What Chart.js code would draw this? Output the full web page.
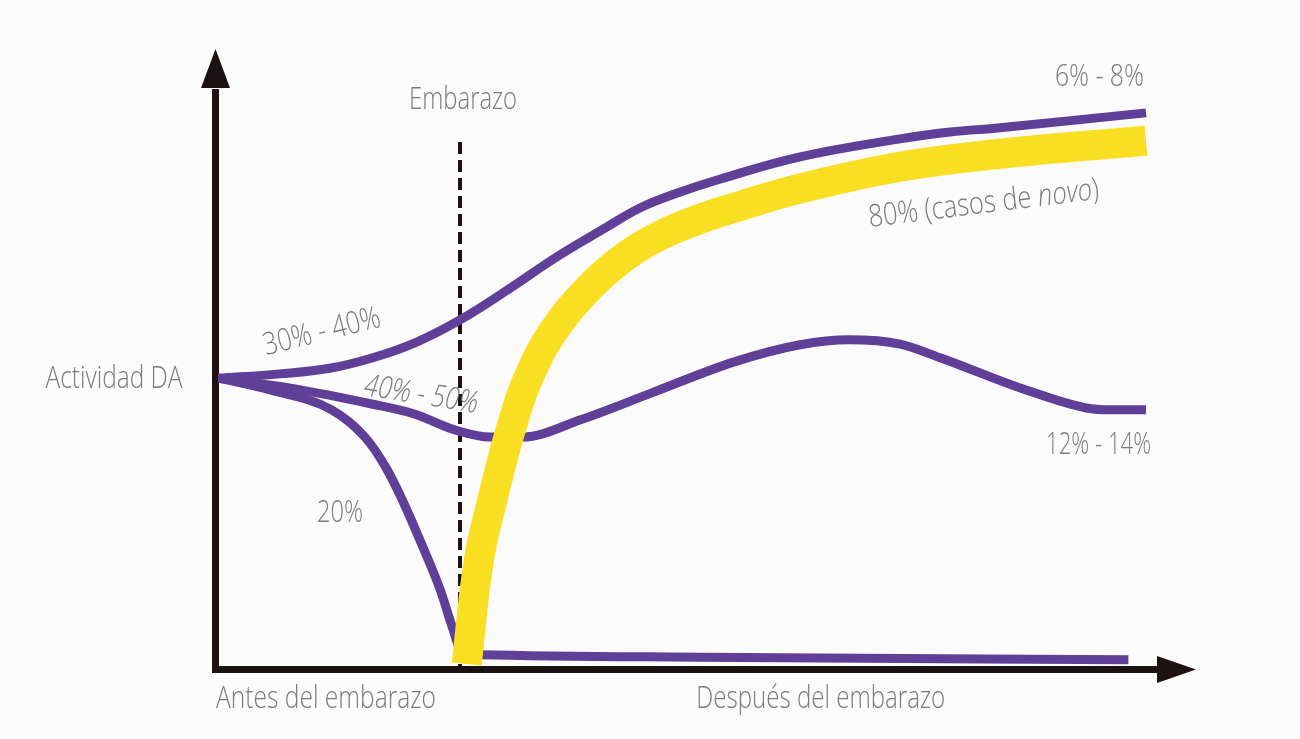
<!DOCTYPE html>
<html>
<head>
<meta charset="utf-8">
<script src="https://cdn.jsdelivr.net/npm/chart.js@4.4.1/dist/chart.umd.min.js"></script>
<style>
  html, body { margin: 0; padding: 0; background: #fbfbfb; }
  #wrap { width: 1300px; height: 739px; position: relative; }
</style>
</head>
<body>
<div id="wrap"><canvas id="chart"></canvas></div>
<script>
// Actividad DA (escala relativa 0-100) antes / después del embarazo
// curva 30% - 40% -> 6% - 8%
const riseX = [0.2, 6.5, 11.6, 16.0, 20.3, 24.9, 29.7, 34.8, 39.9, 43.3, 47.3, 51.4, 59.6, 69.8, 74.9, 80.0, 94.9];
const riseY = [46.9, 47.6, 48.5, 50.2, 52.6, 56.3, 61.1, 66.5, 71.3, 74.4, 76.9, 79.0, 82.6, 85.5, 86.6, 87.3, 89.7];

// curva 40% - 50% -> 12% - 14%
const dipX = [0.3, 7.6, 16.0, 20.3, 24.5, 28.0, 31.3, 37.2, 44.4, 52.8, 59.6, 64.6, 69.8, 73.9, 82.3, 88.8, 91.2, 94.9];
const dipY = [46.9, 45.3, 42.7, 41.1, 38.5, 37.4, 37.4, 40.2, 44.5, 49.5, 52.3, 53.1, 52.4, 50.2, 45.2, 42.1, 41.8, 41.8];

// curva 20% (cae a cero)
const dropX = [0.3, 5.5, 11.8, 15.2, 17.3, 19.0, 21.1, 22.9, 24.1, 25.1, 26.9, 49.4, 93.1];
const dropY = [46.9, 45.0, 41.8, 37.4, 32.6, 27.3, 19.7, 12.7, 6.8, 2.7, 2.3, 1.9, 1.5];

// 80% (casos de novo)
const novoX = [25.6, 26.0, 26.5, 27.1, 28.0, 29.0, 30.0, 31.7, 34.4, 38.4, 42.0, 45.3, 49.4, 53.5, 59.6, 69.8, 80.0, 94.9];
const novoY = [0.8, 7.1, 14.0, 20.0, 26.0, 32.4, 38.2, 46.3, 54.4, 62.0, 66.8, 69.9, 72.6, 74.7, 77.5, 81.0, 83.1, 85.2];

const embarazoX = 24.9;
const embarazoTop = 85.0;

const purple = '#5f3f97';
const yellow = '#f9de22';
const axisColor = '#1c1212';
const textColor = '#7b7b7b';

// textos: posición (x, y en valores de la escala), ancho en px, ángulo
const notes = [
    { parts: [['Embarazo', false]], x: 19.7, y: 90.3, w: 108, a: 0 },
    { parts: [['Actividad DA', false]], x: -17.4, y: 45.3, w: 137, a: 0 },
    { parts: [['Antes del embarazo', false]], x: 0, y: -6.3, w: 220, a: 0 },
    { parts: [['Después del embarazo', false]], x: 49.0, y: -6.3, w: 249, a: 0 },
    { parts: [['6% - 8%', false]], x: 85.6, y: 94.0, w: 89, a: 0 },
    { parts: [['12% - 14%', false]], x: 84.7, y: 34.7, w: 105, a: 0 },
    { parts: [['20%', false]], x: 10.3, y: 23.7, w: 46, a: 0 },
    { parts: [['30% - 40%', false]], x: 5.1, y: 50.6, w: 120, a: -14 },
    { parts: [['40% - 50%', true]], x: 15.0, y: 44.2, w: 115, a: 9 },
    { parts: [['80% (casos de ', false], ['novo', true], [')', false]], x: 66.7, y: 71.3, w: 232, a: -7 }
];

function toPoints(xs, ys) {
    return xs.map((x, i) => ({ x: x, y: ys[i] }));
}

function fontFor(italic) {
    return (italic ? 'italic ' : '') + '300 31px "Open Sans", "Liberation Sans", sans-serif';
}

// ejes con flechas + línea discontinua del embarazo
const axesPlugin = {
    id: 'axes',
    beforeDatasetsDraw(chart) {
        const ctx = chart.ctx;
        const area = chart.chartArea;
        const sx = chart.scales.x, sy = chart.scales.y;
        const ax = area.left - 0.5;
        const ay = area.bottom + 0.5;
        ctx.save();
        // línea discontinua
        const dx = sx.getPixelForValue(embarazoX);
        ctx.strokeStyle = axisColor;
        ctx.lineWidth = 4;
        ctx.setLineDash([12, 6]);
        ctx.beginPath();
        ctx.moveTo(dx, sy.getPixelForValue(embarazoTop));
        ctx.lineTo(dx, ay);
        ctx.stroke();
        ctx.setLineDash([]);

        ctx.lineWidth = 7;
        ctx.beginPath();
        ctx.moveTo(ax, ay + 3.5);
        ctx.lineTo(ax, area.top + 40);
        ctx.moveTo(ax - 3.5, ay);
        ctx.lineTo(area.right - 38, ay);
        ctx.stroke();
        ctx.fillStyle = axisColor;
        ctx.beginPath();
        ctx.moveTo(ax, area.top);
        ctx.lineTo(ax - 14.5, area.top + 39);
        ctx.lineTo(ax + 14.5, area.top + 39);
        ctx.closePath();
        ctx.fill();
        ctx.beginPath();
        ctx.moveTo(area.right, ay);
        ctx.lineTo(area.right - 39, ay - 13.5);
        ctx.lineTo(area.right - 39, ay + 13.5);
        ctx.closePath();
        ctx.fill();
        ctx.restore();
    },
    afterDraw(chart) {
        const ctx = chart.ctx;
        const sx = chart.scales.x, sy = chart.scales.y;
        ctx.save();
        ctx.fillStyle = textColor;
        ctx.textBaseline = 'alphabetic';
        ctx.textAlign = 'left';
        notes.forEach(n => {
            let total = 0;
            n.parts.forEach(p => { ctx.font = fontFor(p[1]); total += ctx.measureText(p[0]).width; });
            const s = n.w / total;
            ctx.save();
            ctx.translate(sx.getPixelForValue(n.x), sy.getPixelForValue(n.y));
            ctx.rotate(n.a * Math.PI / 180);
            ctx.scale(s, 1);
            let off = 0;
            n.parts.forEach(p => {
                ctx.font = fontFor(p[1]);
                ctx.fillText(p[0], off, 0);
                off += ctx.measureText(p[0]).width;
            });
            ctx.restore();
        });
        ctx.restore();
    }
};

const chart = new Chart(document.getElementById('chart').getContext('2d'), {
    type: 'line',
    data: {
        datasets: [
            {
                label: '80% (casos de novo)',
                data: toPoints(novoX, novoY),
                borderColor: yellow,
                borderWidth: 30,
                tension: 0.4
            },
            {
                label: '30% - 40%',
                data: toPoints(riseX, riseY),
                borderColor: purple,
                borderWidth: 9,
                tension: 0.4
            },
            {
                label: '40% - 50%',
                data: toPoints(dipX, dipY),
                borderColor: purple,
                borderWidth: 9,
                cubicInterpolationMode: 'monotone'
            },
            {
                label: '20%',
                data: toPoints(dropX, dropY),
                borderColor: purple,
                borderWidth: 9,
                cubicInterpolationMode: 'monotone'
            }
        ]
    },
    options: {
        responsive: true,
        maintainAspectRatio: false,
        animation: false,
        layout: { padding: { left: 216, right: 104, top: 49, bottom: 70 } },
        elements: {
            point: { radius: 0 },
            line: { fill: false, borderCapStyle: 'butt' }
        },
        plugins: { legend: { display: false }, tooltip: { enabled: false } },
        scales: {
            x: { type: 'linear', min: 0, max: 100, display: false },
            y: { type: 'linear', min: 0, max: 100, display: false }
        }
    },
    plugins: [axesPlugin]
});
</script>
</body>
</html>
